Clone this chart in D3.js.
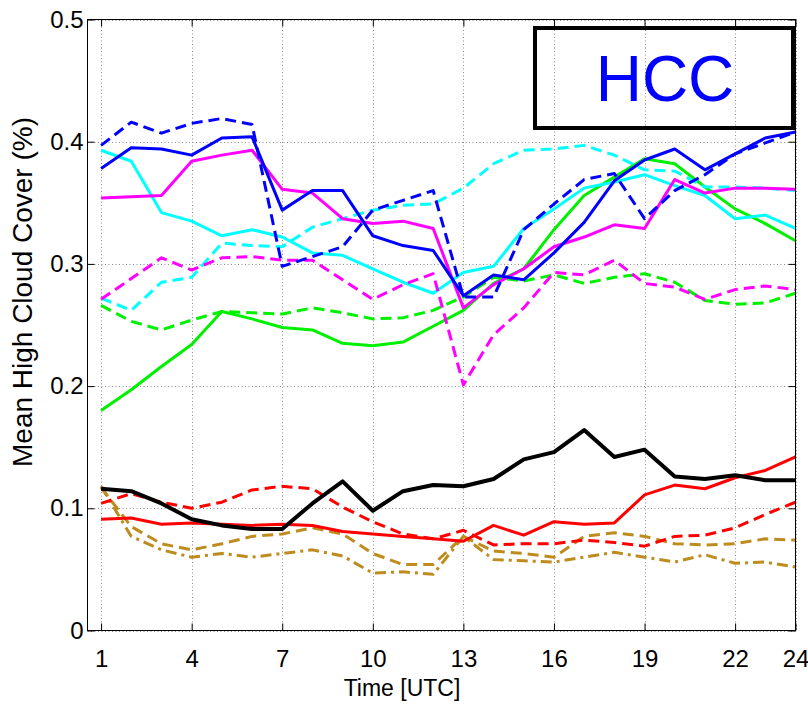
<!DOCTYPE html>
<html>
<head>
<meta charset="utf-8">
<script src="https://cdn.jsdelivr.net/npm/d3@7"></script>
<style>
  body { margin: 0; background: #fff; }
  svg text { font-family: "Liberation Sans", Arial, sans-serif; }
</style>
</head>
<body>
<div id="chart"></div>
<script>
const width = 808, height = 705;

// hours (UTC) and tick values
const hours = [1,2,3,4,5,6,7,8,9,10,11,12,13,14,15,16,17,18,19,20,21,22,23,24];
const xTicks = [1,4,7,10,13,16,19,22,24];
const yTicks = [0,0.1,0.2,0.3,0.4,0.5];

// mean high cloud cover per series
const blueSolid    = [0.378,0.395,0.394,0.389,0.403,0.404,0.344,0.360,0.360,0.323,0.315,0.311,0.274,0.291,0.287,0.309,0.334,0.368,0.385,0.394,0.377,0.390,0.403,0.408];
const blueDashed   = [0.397,0.416,0.407,0.415,0.419,0.414,0.298,0.306,0.314,0.344,0.352,0.360,0.273,0.273,0.328,0.349,0.369,0.374,0.337,0.360,0.373,0.390,0.399,0.408];
const magentaSolid = [0.354,0.355,0.356,0.384,0.389,0.393,0.361,0.358,0.337,0.333,0.335,0.329,0.264,0.283,0.296,0.314,0.322,0.332,0.329,0.369,0.358,0.362,0.362,0.361];
const magentaDashed= [0.271,0.288,0.305,0.295,0.305,0.306,0.303,0.303,0.287,0.271,0.283,0.292,0.201,0.242,0.264,0.293,0.291,0.303,0.284,0.281,0.271,0.279,0.282,0.279];
const cyanSolid    = [0.393,0.384,0.342,0.335,0.323,0.328,0.322,0.309,0.307,0.296,0.285,0.276,0.293,0.298,0.329,0.345,0.362,0.367,0.373,0.364,0.356,0.337,0.340,0.329];
const cyanDashed   = [0.272,0.262,0.285,0.289,0.317,0.315,0.314,0.330,0.337,0.344,0.348,0.349,0.362,0.382,0.393,0.394,0.397,0.389,0.377,0.376,0.363,0.363,0.362,0.360];
const greenSolid   = [0.180,0.197,0.216,0.234,0.261,0.255,0.248,0.246,0.235,0.233,0.236,0.249,0.262,0.284,0.296,0.328,0.356,0.371,0.386,0.382,0.363,0.345,0.333,0.319];
const greenDashed  = [0.266,0.253,0.246,0.254,0.261,0.260,0.259,0.264,0.260,0.255,0.256,0.262,0.273,0.289,0.286,0.291,0.284,0.289,0.292,0.285,0.270,0.267,0.268,0.276];
const blackSolid   = [0.116,0.114,0.104,0.091,0.086,0.083,0.083,0.104,0.122,0.098,0.114,0.119,0.118,0.124,0.140,0.146,0.164,0.142,0.148,0.126,0.124,0.127,0.123,0.123];
const redSolid     = [0.091,0.092,0.087,0.088,0.087,0.086,0.087,0.086,0.081,0.079,0.077,0.075,0.073,0.086,0.078,0.089,0.087,0.088,0.111,0.119,0.116,0.125,0.131,0.142];
const redDashed    = [0.104,0.112,0.105,0.100,0.105,0.115,0.118,0.116,0.101,0.089,0.079,0.075,0.082,0.070,0.071,0.071,0.074,0.072,0.069,0.077,0.078,0.084,0.095,0.105];
const goldDashed   = [0.117,0.085,0.071,0.066,0.071,0.077,0.079,0.084,0.079,0.063,0.054,0.054,0.077,0.065,0.063,0.060,0.077,0.080,0.077,0.071,0.070,0.071,0.075,0.074];
const goldDashDot  = [0.118,0.077,0.066,0.060,0.063,0.060,0.063,0.066,0.061,0.047,0.048,0.046,0.077,0.058,0.057,0.056,0.060,0.064,0.060,0.056,0.062,0.055,0.056,0.052];

const dash = "11,6", dashDot = "11,5,3,5";
const series = [
  { values: goldDashDot,   color: "#BE8C1E", dash: dashDot, w: 3 },
  { values: goldDashed,    color: "#BE8C1E", dash: dash,    w: 3 },
  { values: redDashed,     color: "#FF0000", dash: dash,    w: 3 },
  { values: redSolid,      color: "#FF0000", dash: null,    w: 3 },
  { values: blackSolid,    color: "#000000", dash: null,    w: 4 },
  { values: greenDashed,   color: "#00F000", dash: dash,    w: 3 },
  { values: greenSolid,    color: "#00F000", dash: null,    w: 3 },
  { values: cyanDashed,    color: "#00FFFF", dash: dash,    w: 3 },
  { values: cyanSolid,     color: "#00FFFF", dash: null,    w: 3 },
  { values: magentaDashed, color: "#FF00FF", dash: dash,    w: 3 },
  { values: magentaSolid,  color: "#FF00FF", dash: null,    w: 3 },
  { values: blueDashed,    color: "#0000FF", dash: dash,    w: 3 },
  { values: blueSolid,     color: "#0000FF", dash: null,    w: 3 }
];

const plot = { left: 87.5, right: 795.5, top: 19.5, bottom: 630.5 };

const x = d3.scaleLinear().domain([0.55, 24]).range([plot.left, plot.right]);
const y = d3.scaleLinear().domain([0, 0.5]).range([plot.bottom, plot.top]);

const svg = d3.select("#chart").append("svg")
  .attr("width", width).attr("height", height);

// grid
svg.append("g").selectAll("line").data(xTicks).join("line")
  .attr("x1", d => Math.round(x(d)) + 0.5).attr("x2", d => Math.round(x(d)) + 0.5)
  .attr("y1", plot.top).attr("y2", plot.bottom)
  .attr("stroke", "#8c8c8c").attr("stroke-dasharray", "1,2.5");
svg.append("g").selectAll("line").data(yTicks).join("line")
  .attr("x1", plot.left).attr("x2", plot.right)
  .attr("y1", d => Math.round(y(d)) + 0.5).attr("y2", d => Math.round(y(d)) + 0.5)
  .attr("stroke", "#8c8c8c").attr("stroke-dasharray", "1,2.5");

// lines
const line = vals => d3.line()
  .x((d, i) => x(hours[i]))
  .y(d => y(d))(vals);

svg.append("g").selectAll("path").data(series).join("path")
  .attr("d", d => line(d.values))
  .attr("fill", "none")
  .attr("stroke", d => d.color)
  .attr("stroke-width", d => d.w)
  .attr("stroke-linejoin", "round")
  .attr("stroke-dasharray", d => d.dash);

// axes with inward ticks on all sides
const fmtY = d => d === 0 ? "0" : d3.format(".1f")(d);
svg.append("g")
  .attr("transform", `translate(0,${plot.bottom})`)
  .call(d3.axisBottom(x).tickValues(xTicks).tickSizeInner(-7).tickSizeOuter(0).tickPadding(19))
  .call(g => g.select(".domain").remove());
svg.append("g")
  .attr("transform", `translate(0,${plot.top})`)
  .call(d3.axisTop(x).tickValues(xTicks).tickSizeInner(-7).tickSizeOuter(0).tickFormat(""))
  .call(g => g.select(".domain").remove());
svg.append("g")
  .attr("transform", `translate(${plot.left},0)`)
  .call(d3.axisLeft(y).tickValues(yTicks).tickSizeInner(-7).tickSizeOuter(0).tickPadding(4).tickFormat(fmtY))
  .call(g => g.select(".domain").remove());
svg.append("g")
  .attr("transform", `translate(${plot.right},0)`)
  .call(d3.axisRight(y).tickValues(yTicks).tickSizeInner(-7).tickSizeOuter(0).tickFormat(""))
  .call(g => g.select(".domain").remove());

svg.selectAll(".tick text").attr("font-size", 24).attr("fill", "#000")
  .attr("font-family", "'Liberation Sans', Arial, sans-serif");
svg.selectAll(".tick line").attr("stroke", "#000");

svg.append("rect")
  .attr("x", plot.left).attr("y", plot.top)
  .attr("width", plot.right - plot.left).attr("height", plot.bottom - plot.top)
  .attr("fill", "none").attr("stroke", "#000").attr("stroke-width", 1);

// labels
svg.append("text")
  .attr("x", 402).attr("y", 696)
  .attr("text-anchor", "middle").attr("font-size", 23)
  .text("Time [UTC]");
svg.append("text")
  .attr("transform", "translate(32,292) rotate(-90)")
  .attr("text-anchor", "middle").attr("font-size", 27)
  .attr("textLength", 350).attr("lengthAdjust", "spacingAndGlyphs")
  .text("Mean High Cloud Cover (%)");

// HCC box
svg.append("rect")
  .attr("x", 535).attr("y", 28).attr("width", 258).attr("height", 100)
  .attr("fill", "none").attr("stroke", "#000").attr("stroke-width", 4);
svg.append("text")
  .attr("x", 665).attr("y", 101)
  .attr("text-anchor", "middle").attr("font-size", 64).attr("fill", "#0000FF")
  .text("HCC");
</script>
</body>
</html>
